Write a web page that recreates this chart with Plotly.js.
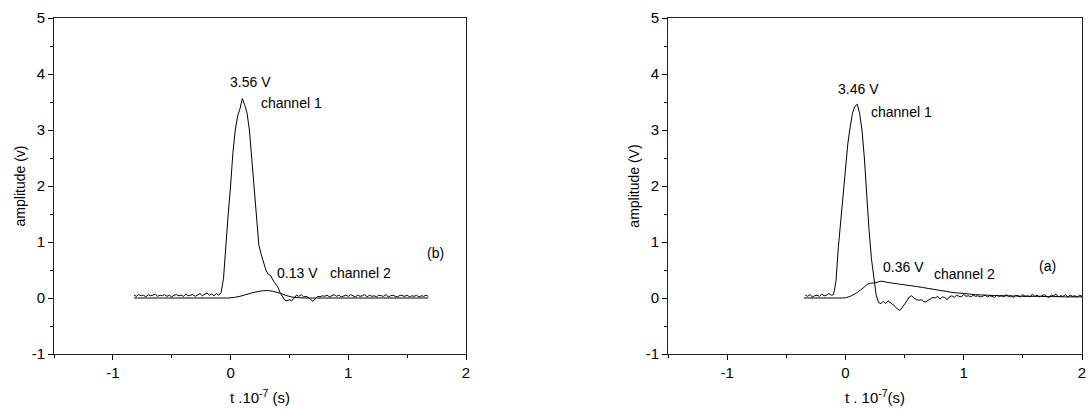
<!DOCTYPE html>
<html>
<head>
<meta charset="utf-8">
<script src="https://cdn.plot.ly/plotly-3.0.1.min.js"></script>
<style>html,body{margin:0;padding:0;background:#fff;}#chart{width:1090px;height:409px;}</style>
</head>
<body>
<div id="chart"></div>
<script>
// Panel (b) – left
const bCh1Start = -0.82, bCh1Step = 0.02;
const bCh1 = [0.05,0.03,0.06,0.04,0.05,0.02,0.06,0.04,0.05,0.07,
  0.03,0.05,0.04,0.06,0.03,0.05,0.02,0.05,0.06,0.04,
  0.05,0.03,0.07,0.04,0.05,0.06,0.03,0.05,0.08,0.04,
  0.06,0.09,0.05,0.07,0.04,0.08,0.05,
  0.10,0.35,1.0,1.5,2.0,2.6,3.0,3.25,3.38,3.56,
  3.45,3.3,3.0,2.45,1.9,1.4,0.95,0.78,0.65,0.5,
  0.42,0.4,0.32,0.27,0.2,0.1,0.02,-0.04,-0.05,-0.03,
  -0.05,0.01,0.05,0.03,0.06,0.02,0.03,0.01,-0.02,-0.06,
  -0.01,0.03,0.02,0.04,0.03,
  0.05,0.02,0.04,0.06,0.03,0.05,0.02,0.04,0.05,0.03,
  0.06,0.04,0.02,0.05,0.03,0.04,0.06,0.02,0.05,0.03,
  0.04,0.02,0.05,0.04,0.03,0.06,0.02,0.04,0.05,0.03,
  0.02,0.05,0.04,0.03,0.05,0.02,0.04,0.03,0.05,0.02,
  0.04,0.03,0.05,0.03];
const bCh2Start = -0.82, bCh2Step = 0.05;
const bCh2 = [0,0,0,0,0,0,0,0,0,0,0,0,0,0,0,0,
  0.0,0.01,0.03,0.06,0.09,0.115,0.13,0.13,0.11,0.08,0.04,0.015,0.005,
  0,0,0,0,0,0,0,0,0,0,0,0,0,0,0,0,0,0,0,0,0,0];

// Panel (a) – right
const aCh1Start = -0.34, aCh1Step = 0.02;
const aCh1 = [0.05,0.03,0.06,0.02,0.04,0.05,0.03,0.07,0.04,0.05,0.08,0.05,
  0.06,0.3,0.9,1.4,1.9,2.35,2.75,3.05,3.3,3.42,
  3.46,3.3,3.0,2.5,1.75,1.2,0.7,0.35,0.05,-0.08,
  -0.1,-0.06,-0.1,-0.05,-0.08,-0.12,-0.15,-0.2,-0.22,-0.17,
  -0.12,-0.05,0.02,0.04,0.0,-0.03,-0.04,-0.03,-0.06,-0.07,
  -0.04,-0.02,0.01,0.0,0.03,-0.02,0.02,0.01,-0.03,0.02,
  0.04,0.01,0.05,0.03,0.02,0.06,0.03,0.04,0.02,0.05,
  0.03,0.04,0.02,0.03,0.05,0.02,0.04,0.03,0.01,0.05,
  0.03,0.04,0.02,0.06,0.03,0.04,0.01,0.05,0.03,0.02,
  0.06,0.03,0.04,0.02,0.07,0.03,0.05,0.02,0.04,0.06,
  0.03,0.01,0.05,0.04,0.07,0.02,0.04,0.03,0.06,0.02,
  0.05,0.03,0.04,0.02,0.05,0.03];
const aCh2Start = -0.35, aCh2Step = 0.05;
const aCh2 = [0,0,0,0,0,0,0,
  0.005,0.04,0.1,0.18,0.26,0.27,0.3,0.28,0.265,0.25,
  0.235,0.22,0.205,0.19,0.17,0.155,0.135,0.12,0.1,0.09,
  0.08,0.07,0.06,0.055,0.05,
  0.045,0.04,0.04,0.035,0.035,0.03,0.03,0.03,0.03,0.025,0.025,0.025,0.02,0.02,0.02,0.02];

const xTickVals = [-1, 0, 1, 2];
const xTickText = ['-1', '0', '1', '2'];
const yTickVals = [-1, 0, 1, 2, 3, 4, 5];
const yTickText = ['-1', '0', '1', '2', '3', '4', '5'];

const labelsB = [
  {text: '3.56 V', x: 0.17, y: 3.86, xanchor: 'center'},
  {text: 'channel 1', x: 0.24, y: 3.48, xanchor: 'left'},
  {text: '0.13 V', x: 0.38, y: 0.45, xanchor: 'left'},
  {text: 'channel 2', x: 0.83, y: 0.45, xanchor: 'left'},
  {text: '(b)', x: 1.74, y: 0.8, xanchor: 'center'}
];
const labelsA = [
  {text: '3.46 V', x: 0.11, y: 3.73, xanchor: 'center'},
  {text: 'channel 1', x: 0.2, y: 3.32, xanchor: 'left'},
  {text: '0.36 V', x: 0.30, y: 0.55, xanchor: 'left'},
  {text: 'channel 2', x: 0.73, y: 0.43, xanchor: 'left'},
  {text: '(a)', x: 1.71, y: 0.57, xanchor: 'center'}
];

const lineStyle = {color: '#000', width: 1};
const traces = [
  {x0: bCh1Start, dx: bCh1Step, y: bCh1, type: 'scatter', mode: 'lines', line: Object.assign({shape: 'linear'}, lineStyle), xaxis: 'x', yaxis: 'y'},
  {x0: bCh2Start, dx: bCh2Step, y: bCh2, type: 'scatter', mode: 'lines', line: Object.assign({shape: 'spline'}, lineStyle), xaxis: 'x', yaxis: 'y'},
  {x0: aCh1Start, dx: aCh1Step, y: aCh1, type: 'scatter', mode: 'lines', line: Object.assign({shape: 'linear'}, lineStyle), xaxis: 'x2', yaxis: 'y2'},
  {x0: aCh2Start, dx: aCh2Step, y: aCh2, type: 'scatter', mode: 'lines', line: Object.assign({shape: 'spline'}, lineStyle), xaxis: 'x2', yaxis: 'y2'}
];

const font = {family: 'Liberation Sans, Arial, sans-serif', color: '#000'};
function xAxis(domain, anchor, title) {
  return {
    domain: domain, anchor: anchor, range: [-1.5, 2],
    tickvals: xTickVals, ticktext: xTickText, ticks: 'outside', ticklen: 5, tickwidth: 1, tickcolor: '#000',
    minor: {dtick: 0.5, tick0: 0, ticks: 'outside', ticklen: 3, tickcolor: '#000'},
    showline: true, linecolor: '#222', linewidth: 1, mirror: true,
    showgrid: false, zeroline: false,
    tickfont: Object.assign({size: 15}, font),
    title: {text: title, font: Object.assign({size: 15}, font), standoff: 12}
  };
}
function yAxis(domain, anchor, title) {
  return {
    domain: domain, anchor: anchor, range: [-1, 5],
    tickvals: yTickVals, ticktext: yTickText, ticks: 'outside', ticklen: 5, tickwidth: 1, tickcolor: '#000',
    minor: {dtick: 0.5, tick0: 0, ticks: 'outside', ticklen: 3, tickcolor: '#000'},
    showline: true, linecolor: '#222', linewidth: 1, mirror: true,
    showgrid: false, zeroline: false,
    tickfont: Object.assign({size: 15}, font),
    title: {text: title, font: Object.assign({size: 14}, font), standoff: 2}
  };
}

function mkAnn(list, xref, yref) {
  return list.map(a => ({
    text: a.text, x: a.x, y: a.y, xref: xref, yref: yref,
    xanchor: a.xanchor, yanchor: 'middle', showarrow: false,
    font: Object.assign({size: 14}, font)
  }));
}

const layout = {
  width: 1090, height: 409,
  margin: {l: 0, r: 0, t: 18, b: 55},
  paper_bgcolor: '#fff', plot_bgcolor: '#fff',
  showlegend: false,
  xaxis: xAxis([54/1090, 466/1090], 'y', 't .10<sup>-7</sup> (s)'),
  yaxis: yAxis([0, 1], 'x', 'amplitude (v)'),
  xaxis2: xAxis([668/1090, 1082/1090], 'y2', 't . 10<sup>-7</sup>(s)'),
  yaxis2: yAxis([0, 1], 'x2', 'amplitude (V)'),
  annotations: mkAnn(labelsB, 'x', 'y').concat(mkAnn(labelsA, 'x2', 'y2'))
};

Plotly.newPlot('chart', traces, layout, {displayModeBar: false, staticPlot: true});
</script>
</body>
</html>
